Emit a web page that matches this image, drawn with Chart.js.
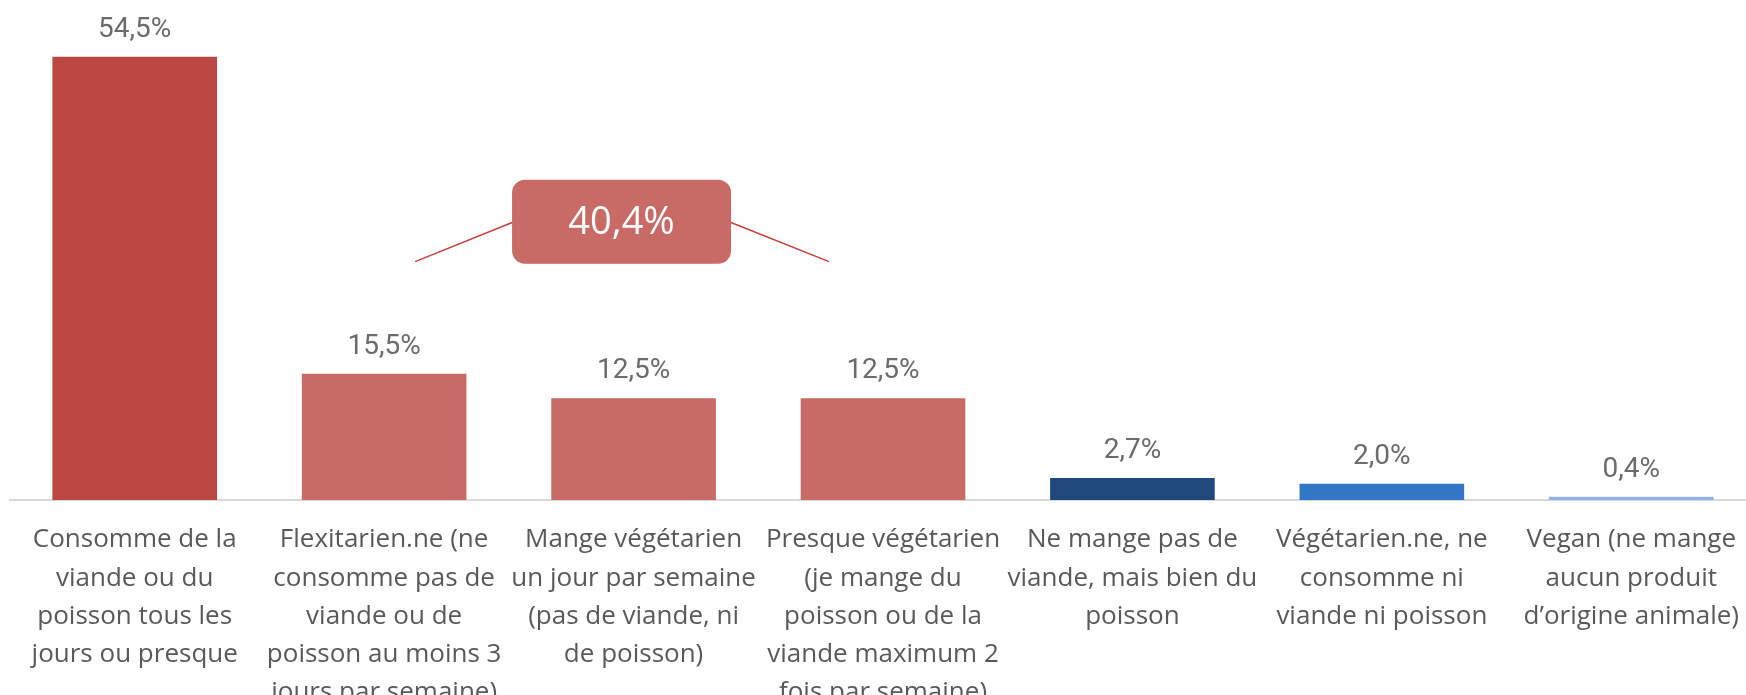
<!DOCTYPE html>
<html>
<head>
<meta charset="utf-8">
<script src="https://cdn.jsdelivr.net/npm/chart.js@4.4.1/dist/chart.umd.min.js"></script>
<style>
  html, body { margin: 0; padding: 0; background: #ffffff; overflow: hidden; }
  #wrap { position: relative; width: 1770px; height: 733px; }
</style>
</head>
<body>
<div id="wrap"><canvas id="dietChart"></canvas></div>
<script>
const categories = [
    ["Consomme de la", "viande ou du", "poisson tous les", "jours ou presque"],
    ["Flexitarien.ne (ne", "consomme pas de", "viande ou de", "poisson au moins 3", "jours par semaine)"],
    ["Mange végétarien", "un jour par semaine", "(pas de viande, ni", "de poisson)"],
    ["Presque végétarien", "(je mange du", "poisson ou de la", "viande maximum 2", "fois par semaine)"],
    ["Ne mange pas de", "viande, mais bien du", "poisson"],
    ["Végétarien.ne, ne", "consomme ni", "viande ni poisson"],
    ["Vegan (ne mange", "aucun produit", "d\u2019origine animale)"]
];
const shares = [54.5, 15.5, 12.5, 12.5, 2.7, 2.0, 0.4];
const barColors = ["#BA4742", "#C86B66", "#C86B66", "#C86B66", "#1F497C", "#3276C6", "#8EB4E3"];
const flexiGroupTotal = "40,4%";
const flexiGroup = [1, 3];

function fmt(v) {
    return v.toFixed(1).replace(".", ",") + "%";
}

const valueLabels = {
    id: "valueLabels",
    afterDatasetsDraw(chart) {
        const ctx = chart.ctx;
        const meta = chart.getDatasetMeta(0);
        ctx.save();
        ctx.font = "28px Roboto";
        ctx.fillStyle = "#6b6b6b";
        ctx.textAlign = "center";
        ctx.textBaseline = "middle";
        meta.data.forEach((bar, i) => {
            ctx.fillText(fmt(shares[i]), bar.x, bar.y - 27);
        });
        ctx.restore();
    }
};

const groupCallout = {
    id: "groupCallout",
    afterDatasetsDraw(chart) {
        const ctx = chart.ctx;
        const x = chart.scales.x;
        const y = chart.scales.y;
        const [a, b] = flexiGroup;
        const cx = x.getPixelForValue((a + b) / 2) - 12;
        const cy = y.getPixelForValue(34.2);
        const w = 219, h = 84;
        const left = cx - w / 2, right = cx + w / 2;
        ctx.save();
        ctx.strokeStyle = "#C0423A";
        ctx.lineWidth = 1.5;
        ctx.beginPath();
        ctx.moveTo(x.getPixelForValue(a) + 31, y.getPixelForValue(29.3));
        ctx.lineTo(left + 2, cy);
        ctx.moveTo(right - 2, cy);
        ctx.lineTo(x.getPixelForValue(b) - 54, y.getPixelForValue(29.3));
        ctx.stroke();
        ctx.fillStyle = "#C86B66";
        ctx.beginPath();
        ctx.roundRect(left, cy - h / 2, w, h, 13);
        ctx.fill();
        ctx.fillStyle = "#ffffff";
        ctx.font = "38px 'Open Sans'";
        ctx.textAlign = "center";
        ctx.textBaseline = "middle";
        ctx.fillText(flexiGroupTotal, cx, cy + 1);
        ctx.restore();
    }
};

new Chart(document.getElementById("dietChart"), {
    type: "bar",
    data: {
        labels: categories,
        datasets: [{
            data: shares,
            backgroundColor: barColors,
            borderWidth: 0,
            barPercentage: 0.66,
            categoryPercentage: 1
        }]
    },
    options: {
        responsive: true,
        maintainAspectRatio: false,
        animation: false,
        layout: { padding: { left: 10, right: 14, top: 12, bottom: 0 } },
        plugins: { legend: { display: false }, tooltip: { enabled: false } },
        scales: {
            x: {
                grid: { display: false, drawTicks: false },
                border: { display: true, color: "#d9d9d9", width: 2 },
                ticks: {
                    color: "#595959",
                    font: { family: "'Open Sans'", size: 26, lineHeight: 1.47 },
                    padding: 21,
                    autoSkip: false,
                    maxRotation: 0,
                    minRotation: 0
                }
            },
            y: {
                display: false,
                min: 0,
                max: 60
            }
        }
    },
    plugins: [valueLabels, groupCallout]
});
</script>
</body>
</html>
